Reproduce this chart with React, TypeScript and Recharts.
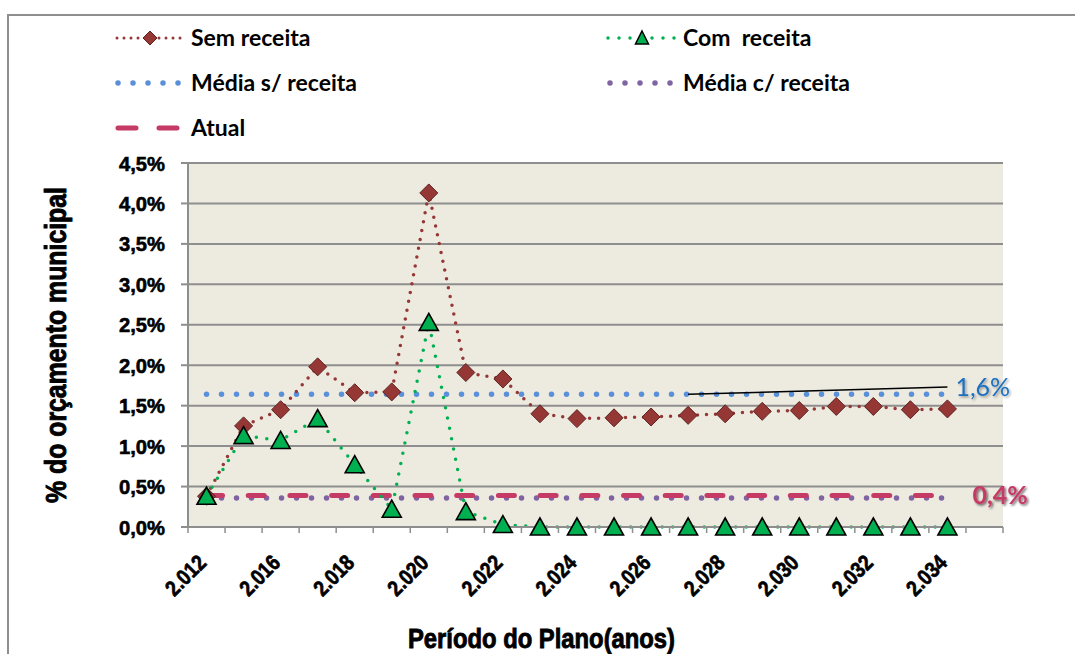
import { ComposedChart, Line, XAxis, YAxis, CartesianGrid, ReferenceLine, ReferenceDot, Legend } from "recharts";

const ANOS = ["2.012","2.015","2.016","2.017","2.018","2.019","2.020","2.021","2.022","2.023","2.024","2.025","2.026","2.027","2.028","2.029","2.030","2.031","2.032","2.033","2.034","2.035"];
const SEM_RECEITA = [0.38, 1.25, 1.45, 1.98, 1.66, 1.67, 4.13, 1.91, 1.83, 1.40, 1.34, 1.35, 1.36, 1.38, 1.40, 1.43, 1.44, 1.49, 1.49, 1.45, 1.46, null];
const COM_RECEITA = [0.38, 1.13, 1.07, 1.34, 0.77, 0.22, 2.53, 0.19, 0.03, 0, 0, 0, 0, 0, 0, 0, 0, 0, 0, 0, 0, null];
const MEDIA_SEM = 1.64;
const MEDIA_COM = 0.36;
const ATUAL = 0.39;
const CALLOUT_Y = 1.73;
const Y_TICKS = [0, 0.5, 1, 1.5, 2, 2.5, 3, 3.5, 4, 4.5];

const data = ANOS.map((ano, i) => ({ ano, sem: SEM_RECEITA[i], com: COM_RECEITA[i] }));

// Arial-like bold, squeezed with textLength to get the narrow look
const AXIS_FONT = "'Liberation Sans', Arial, sans-serif";
const LEG_FONT = "Lato, 'Open Sans', sans-serif";

const C_SEM = "#953735";
const C_COM = "#00B050";
const C_MSEM = "#5A8FD9";
const C_MCOM = "#8064A2";
const C_ATUAL = "#C63A66";
const C_GRID = "#8e8e8e";

const fmtPct = (v: number) => v.toFixed(1).replace(".", ",") + "%";

function Diamond(props: any) {
  const { cx, cy, index } = props;
  if (cx == null || cy == null) return <g key={index} />;
  const r = 9;
  return <path key={index} d={`M${cx},${cy - r}L${cx + r},${cy}L${cx},${cy + r}L${cx - r},${cy}Z`} fill={C_SEM} stroke="#5e2220" strokeWidth={1} />;
}

function Triangle(props: any) {
  const { cx, cy, index } = props;
  if (cx == null || cy == null) return <g key={index} />;
  return <path key={index} d={`M${cx},${cy - 9}L${cx + 9.5},${cy + 8}L${cx - 9.5},${cy + 8}Z`} fill={C_COM} stroke="#000" strokeWidth={1.6} />;
}

function XTick(props: any) {
  const { x, y, payload, index } = props;
  const half = payload?.offset || 18.5;
  const last = index === ANOS.length - 1;
  const ax = x + 1, ay = y + 37;
  return (
    <g>
      <line x1={x - half} y1={y} x2={x - half} y2={y + 6} stroke={C_GRID} strokeWidth={1.5} />
      {last && <line x1={x + half} y1={y} x2={x + half} y2={y + 6} stroke={C_GRID} strokeWidth={1.5} />}
      {index % 2 === 0 && !last && (
        <text x={ax} y={ay} textAnchor="end" transform={`rotate(-45, ${ax}, ${ay})`} textLength={47} lengthAdjust="spacingAndGlyphs"
          fontFamily={AXIS_FONT} fontWeight="bold" fontSize={22} fill="#000" stroke="#000" strokeWidth={0.7}>{payload.value}</text>
      )}
    </g>
  );
}

function YTick(props: any) {
  const { x, y, payload } = props;
  return (
    <text x={x} y={y} dy={7.5} textAnchor="end" textLength={46} lengthAdjust="spacingAndGlyphs"
      fontFamily={AXIS_FONT} fontWeight="bold" fontSize={21} fill="#000" stroke="#000" strokeWidth={0.6}>{fmtPct(payload.value)}</text>
  );
}

function LegendSymbol({ kind }: { kind: string }) {
  if (kind === "sem") return (
    <svg width={70} height={20}>
      <line x1={2} y1={10} x2={66} y2={10} stroke={C_SEM} strokeWidth={3} strokeDasharray="0 7" strokeLinecap="round" />
      <path d="M35,3L42,10L35,17L28,10Z" fill={C_SEM} stroke="#5e2220" strokeWidth={1} />
    </svg>
  );
  if (kind === "com") return (
    <svg width={74} height={20}>
      <line x1={3} y1={10} x2={71} y2={10} stroke={C_COM} strokeWidth={3.5} strokeDasharray="0 11" strokeLinecap="round" />
      <path d="M37,3L43.5,16L30.5,16Z" fill={C_COM} stroke="#000" strokeWidth={1.5} />
    </svg>
  );
  if (kind === "msem" || kind === "mcom") return (
    <svg width={70} height={20}>
      <line x1={3} y1={10} x2={66} y2={10} stroke={kind === "msem" ? C_MSEM : C_MCOM} strokeWidth={5.5} strokeDasharray="0 15" strokeLinecap="round" />
    </svg>
  );
  return (
    <svg width={70} height={20}>
      <line x1={3} y1={10} x2={66} y2={10} stroke={C_ATUAL} strokeWidth={5} strokeDasharray="18 23" strokeLinecap="round" />
    </svg>
  );
}

const LEGEND_ITEMS = [
  { kind: "sem", label: "Sem receita", left: 191, top: 38 },
  { kind: "com", label: "Com  receita", left: 683, top: 38 },
  { kind: "msem", label: "Média s/ receita", left: 191, top: 83 },
  { kind: "mcom", label: "Média c/ receita", left: 683, top: 83 },
  { kind: "atual", label: "Atual", left: 191, top: 128 },
];

function LegendContent() {
  return (
    <div style={{ position: "relative", width: 1075, height: 150 }}>
      {LEGEND_ITEMS.map((it) => (
        <div key={it.kind}>
          <div style={{ position: "absolute", left: it.left - (it.kind === "com" ? 78 : 76), top: it.top - 10, height: 20 }}>
            <LegendSymbol kind={it.kind} />
          </div>
          <div style={{ position: "absolute", left: it.left, top: it.top - 15, fontFamily: LEG_FONT, fontWeight: 700, fontSize: 23, lineHeight: "28px", whiteSpace: "pre", color: "#000" }}>
            {it.label}
          </div>
        </div>
      ))}
    </div>
  );
}

export default function App() {
  return (
    <div style={{ position: "absolute", left: 0, top: 0, width: 1075, height: 654, overflow: "hidden", background: "#fff" }}>
      <div style={{ position: "absolute", left: 7, top: 14, width: 1100, height: 700, border: "2px solid #8f8f8f" }} />
      <div style={{ position: "absolute", left: 0, top: 0 }}>
        <ComposedChart width={1075} height={654} data={data} margin={{ top: 163, right: 72, bottom: 47, left: 128 }}>
          <defs>
            <filter id="shBlue" x="-20%" y="-20%" width="140%" height="140%">
              <feDropShadow dx={1.5} dy={1.5} stdDeviation={1} floodColor="#000" floodOpacity={0.35} />
            </filter>
            <filter id="shRed" x="-20%" y="-20%" width="140%" height="140%">
              <feDropShadow dx={1.5} dy={1.5} stdDeviation={0.8} floodColor="#000" floodOpacity={0.6} />
            </filter>
          </defs>
          <CartesianGrid vertical={false} stroke={C_GRID} strokeWidth={2} fill="#EDEAE0" />
          <XAxis dataKey="ano" scale="band" interval={0} height={80} tick={<XTick />} tickLine={false} tickSize={0} tickMargin={0}
            axisLine={{ stroke: C_GRID, strokeWidth: 2 }}
            label={({ viewBox }: any) => (
              <text x={viewBox.x + viewBox.width / 2 - 54} y={viewBox.y + 121} textAnchor="middle" textLength={267} lengthAdjust="spacingAndGlyphs"
                fontFamily={AXIS_FONT} fontWeight="bold" fontSize={28} fill="#000" stroke="#000" strokeWidth={0.9}>Período do Plano(anos)</text>
            )} />
          <YAxis domain={[0, 4.5]} ticks={Y_TICKS} width={60} tickSize={7} tickMargin={16}
            tickLine={{ stroke: C_GRID, strokeWidth: 2 }} axisLine={{ stroke: C_GRID, strokeWidth: 2 }}
            tick={<YTick />}
            label={({ viewBox }: any) => {
              const cx = 66, cy = viewBox.y + viewBox.height / 2;
              return <text x={cx} y={cy} textAnchor="middle" transform={`rotate(-90, ${cx}, ${cy})`} textLength={316} lengthAdjust="spacingAndGlyphs"
                fontFamily={AXIS_FONT} fontWeight="bold" fontSize={29} fill="#000" stroke="#000" strokeWidth={0.9}>% do orçamento municipal</text>;
            }} />
          <Legend layout="vertical" align="center" verticalAlign="middle" content={<LegendContent />}
            wrapperStyle={{ left: 0, top: 0, width: 1075, height: 150 }} />
          <ReferenceLine segment={[{ x: ANOS[0], y: MEDIA_SEM }, { x: ANOS[20], y: MEDIA_SEM }]} stroke={C_MSEM} strokeWidth={5.5} strokeDasharray="0 15" strokeLinecap="round" />
          <ReferenceLine segment={[{ x: ANOS[0], y: MEDIA_COM }, { x: ANOS[20], y: MEDIA_COM }]} stroke={C_MCOM} strokeWidth={5.5} strokeDasharray="0 15" strokeLinecap="round" />
          <ReferenceLine segment={[{ x: ANOS[0], y: ATUAL }, { x: ANOS[20], y: ATUAL }]} stroke={C_ATUAL} strokeWidth={5} strokeDasharray="16 25.7" strokeLinecap="round" />
          <ReferenceLine segment={[{ x: ANOS[13], y: MEDIA_SEM }, { x: ANOS[20], y: CALLOUT_Y }]} stroke="#000" strokeWidth={1.5} />
          <Line dataKey="sem" name="Sem receita" type="linear" stroke={C_SEM} strokeWidth={3.5} strokeDasharray="0 9" strokeLinecap="round" dot={<Diamond />} activeDot={false} isAnimationActive={false} />
          <Line dataKey="com" name="Com  receita" type="linear" stroke={C_COM} strokeWidth={3.5} strokeDasharray="0 10.5" strokeLinecap="round" dot={<Triangle />} activeDot={false} isAnimationActive={false} />
          <ReferenceDot x={ANOS[20]} y={CALLOUT_Y} r={0} fill="none" stroke="none"
            label={{ value: "1,6%", position: "right", offset: 8, fill: "#1C6FC0", fontSize: 25, fontFamily: LEG_FONT, filter: "url(#shBlue)" }} />
          <ReferenceDot x={ANOS[20]} y={ATUAL} r={0} fill="none" stroke="none"
            label={{ value: "0,4%", position: "right", offset: 25, fill: C_ATUAL, fontSize: 25, fontWeight: 700, fontFamily: LEG_FONT, filter: "url(#shRed)" }} />
        </ComposedChart>
      </div>
    </div>
  );
}
